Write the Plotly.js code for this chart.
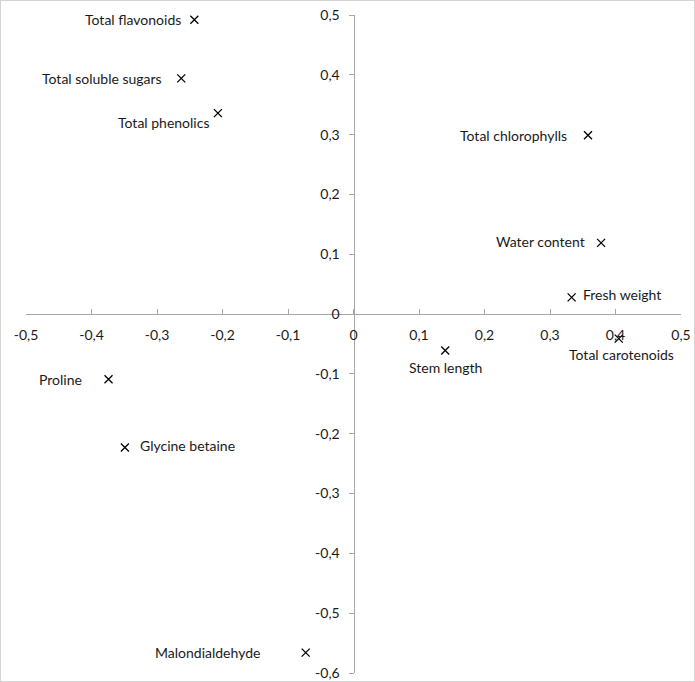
<!DOCTYPE html>
<html><head><meta charset="utf-8">
<script src="https://cdn.plot.ly/plotly-3.0.1.min.js"></script>
<style>
html,body{margin:0;padding:0;background:#fff;}
#wrap{position:relative;width:695px;height:682px;}
#chart{width:695px;height:682px;}
#frame{position:absolute;left:0;top:0;width:695px;height:682px;box-sizing:border-box;border:1px solid #d4d4d4;pointer-events:none;}
</style></head>
<body>
<div id="wrap"><div id="chart"></div><div id="frame"></div></div>
<script>
// Data
const variables = ["Total flavonoids","Total soluble sugars","Total phenolics","Total chlorophylls","Water content","Fresh weight","Total carotenoids","Stem length","Proline","Glycine betaine","Malondialdehyde"];
const pc1 = [-0.243,-0.263,-0.207,0.358,0.378,0.333,0.405,0.140,-0.374,-0.349,-0.073];
const pc2 = [0.492,0.394,0.336,0.299,0.119,0.028,-0.041,-0.061,-0.109,-0.223,-0.566];
const xTicks = [-0.5,-0.4,-0.3,-0.2,-0.1,0,0.1,0.2,0.3,0.4,0.5];
const yTicks = [0.5,0.4,0.3,0.2,0.1,0,-0.1,-0.2,-0.3,-0.4,-0.5,-0.6];

// Label placement styles (per label)
const labAnchorX = ["right","right","right","right","right","left","center","center","right","left","right"];
const labAnchorY = ["middle","middle","middle","middle","middle","middle","top","top","middle","middle","middle"];
const labShiftX = [-11,-17,-7,-19,-14,9,3,0,-25,13,-44];
const labShiftY = [0,0,-9,0,1,3,-5,-6,0,2,0];

const font = {family:"Lato, 'Open Sans', sans-serif", size:14, color:"#1a1a1a"};

const trace = {
  x: pc1, y: pc2, type:"scatter", mode:"markers",
  marker:{symbol:"x-thin", size:8, color:"#000", line:{width:1.3, color:"#000"}},
  hoverinfo:"skip"
};

const annotations = variables.map((t,i)=>({
  x: pc1[i], y: pc2[i], xref:"x", yref:"y", text:t, showarrow:false,
  xanchor: labAnchorX[i], yanchor: labAnchorY[i],
  xshift: labShiftX[i], yshift: labShiftY[i], font: font
}));

const axisCommon = {
  showgrid:false, zeroline:false, showline:true, linecolor:"#a6a6a6", linewidth:1,
  ticks:"outside", ticklen:5, tickcolor:"#a6a6a6", tickfont:font, tickmode:"array"
};

const layout = {
  width:695, height:682,
  margin:{l:26, r:14, t:15, b:9, pad:0},
  paper_bgcolor:"#fff", plot_bgcolor:"#fff",
  separators:", ",
  showlegend:false,
  font: font,
  xaxis: Object.assign({}, axisCommon, {
    range:[-0.5,0.5], tickvals:xTicks, ticktext:xTicks.map(v=>String(v).replace('.',',')),
    anchor:"free", position:0.6/1.1, side:"bottom", ticks:"inside", ticklabelstandoff:8
  }),
  yaxis: Object.assign({}, axisCommon, {
    range:[-0.6,0.5], tickvals:yTicks, ticktext:yTicks.map(v=>String(v).replace('.',',')),
    anchor:"free", position:0.5, side:"left", ticklabelstandoff:6
  }),
  annotations: annotations
};

Plotly.newPlot("chart",[trace],layout,{displayModeBar:false, staticPlot:true});
</script>
</body></html>
